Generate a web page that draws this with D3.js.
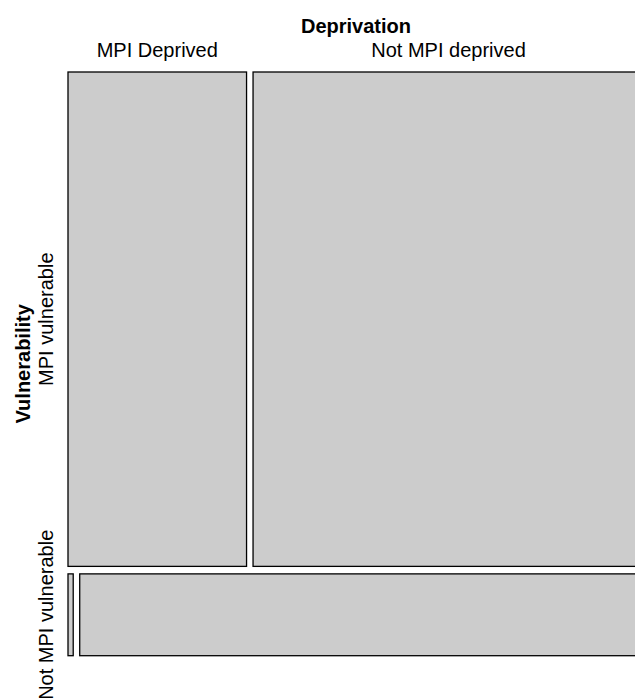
<!DOCTYPE html>
<html>
<head>
<meta charset="utf-8">
<script src="https://cdn.jsdelivr.net/npm/d3@7"></script>
<style>
  body { margin: 0; background: #fff; }
  text { font-family: "Liberation Sans", Arial, sans-serif; fill: #000; }
</style>
</head>
<body>
<script>
// mosaic of Vulnerability (rows) by Deprivation (columns), shares in %
var vulnerability = ["MPI vulnerable", "Not MPI vulnerable"];
var deprivation = ["MPI Deprived", "Not MPI deprived"];
var deprivedShare = [26.9, 0.13];     // MPI Deprived, per vulnerability row
var notDeprivedShare = [58.9, 14.07]; // Not MPI deprived, per vulnerability row

var width = 635, height = 699;
var plotLeft = 68, plotRight = 644, plotTop = 72, plotBottom = 655.7;
var gapY = 7.5, gapX = 6.5;
var fontSize = "20px";

var svg = d3.select("body").append("svg")
  .attr("width", width).attr("height", height);

var rows = vulnerability.map(function (v, i) {
  return { name: v, cells: [deprivedShare[i], notDeprivedShare[i]] };
});
var rowTotals = rows.map(function (r) { return d3.sum(r.cells); });
var grand = d3.sum(rowTotals);

// row heights
var y = d3.scaleLinear().domain([0, grand])
  .range([0, (plotBottom - plotTop) - gapY * (rows.length - 1)]);

var yPos = 0;
rows.forEach(function (r, i) {
  r.y0 = plotTop + y(yPos) + i * gapY;
  r.y1 = r.y0 + y(rowTotals[i]);
  yPos += rowTotals[i];

  // column widths inside this row
  var x = d3.scaleLinear().domain([0, rowTotals[i]])
    .range([0, (plotRight - plotLeft) - gapX * (r.cells.length - 1)]);
  var xPos = 0;
  r.rects = r.cells.map(function (c, j) {
    var x0 = plotLeft + x(xPos) + j * gapX;
    xPos += c;
    return { x0: x0, x1: x0 + x(c), y0: r.y0, y1: r.y1 };
  });
});

var all = [];
rows.forEach(function (r) { all = all.concat(r.rects); });

svg.selectAll("rect.cell").data(all).enter().append("rect")
  .attr("class", "cell")
  .attr("x", function (d) { return d.x0; })
  .attr("y", function (d) { return d.y0; })
  .attr("width", function (d) { return d.x1 - d.x0; })
  .attr("height", function (d) { return d.y1 - d.y0; })
  .attr("fill", "#cccccc")
  .attr("stroke", "#000")
  .attr("stroke-width", 1.3);

// column labels from the first row
svg.append("text")
  .attr("x", (plotLeft + plotRight) / 2).attr("y", 33)
  .attr("text-anchor", "middle")
  .style("font-size", fontSize).style("font-weight", "bold")
  .text("Deprivation");

svg.selectAll("text.col").data(rows[0].rects).enter().append("text")
  .attr("class", "col")
  .attr("x", function (d) { return (d.x0 + d.x1) / 2; })
  .attr("y", 57)
  .attr("text-anchor", "middle")
  .style("font-size", fontSize)
  .text(function (d, i) { return deprivation[i]; });

// row labels
svg.append("text")
  .attr("transform", "translate(30," + (plotTop + plotBottom) / 2 + ") rotate(-90)")
  .attr("text-anchor", "middle")
  .style("font-size", fontSize).style("font-weight", "bold")
  .text("Vulnerability");

svg.selectAll("text.row").data(rows).enter().append("text")
  .attr("class", "row")
  .attr("transform", function (d) {
    return "translate(53," + (d.y0 + d.y1) / 2 + ") rotate(-90)";
  })
  .attr("text-anchor", "middle")
  .style("font-size", fontSize)
  .text(function (d) { return d.name; });
</script>
</body>
</html>
